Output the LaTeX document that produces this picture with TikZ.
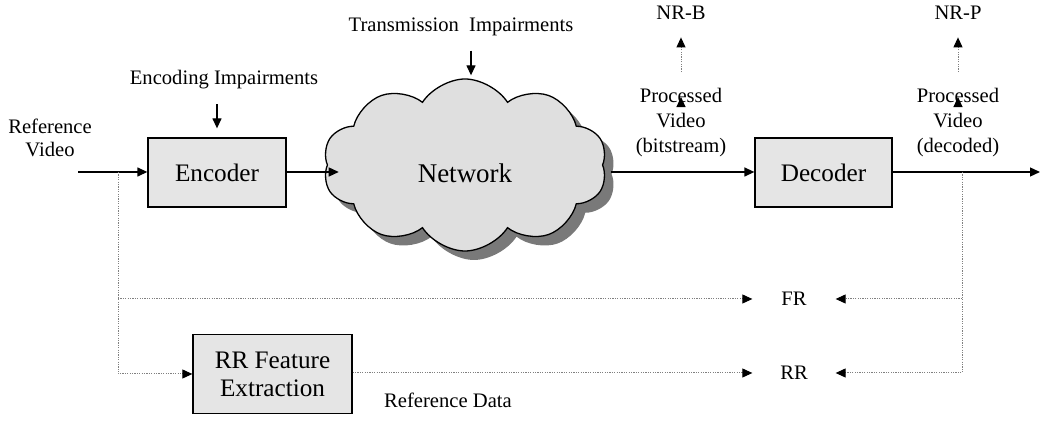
\documentclass[tikz,border=0pt]{standalone}
\usepackage{fontspec}
\setmainfont{Liberation Serif}
\usetikzlibrary{arrows.meta,shapes.symbols,shadows}

\begin{document}
\begin{tikzpicture}[x=0.5pt,y=-0.5pt,line width=0.65pt,
        >={Triangle[length=5pt,width=4.5pt,black]},
        dotline/.style={draw=gray,line width=0.5pt,dash pattern=on 0.6pt off 0.6pt}]
    \useasboundingbox (0,0) rectangle (1040,421);

        % blocks
        \begin{scope}[every node/.style={draw,fill=gray!20,align=center,font=\fontsize{12.6}{14}\selectfont}]
            \node[minimum width=69pt,minimum height=34.5pt] (enc) at (217,172.5) {Encoder};
            \node[minimum width=68.5pt,minimum height=34.5pt] (dec) at (823.5,172.5) {Decoder};
            \node[minimum width=79.5pt,minimum height=39.5pt] (rrf) at (272.5,374) {RR Feature\\Extraction};
            \node[cloud,cloud puffs=10,cloud puff arc=115,minimum width=142pt,minimum height=86pt,inner sep=0pt,
                  fill=gray!25,drop shadow={shadow xshift=4.5pt,shadow yshift=-4.5pt,fill=gray!95!black,opacity=1},
                  label={[font=\fontsize{13.5}{15}\selectfont,yshift=-4pt]center:Network}] (net) at (465,165) {};
        \end{scope}

        % labels
        \begin{scope}[every node/.style={align=center,font=\fontsize{10.3}{12.5}\selectfont,inner sep=2pt}]
            \node[font=\fontsize{10.3}{11.5}\selectfont] (ref) at (50,138) {Reference\\Video};
            \node (encimp) at (224,80) {Encoding Impairments};
            \node (trimp) at (461,27) {Transmission\ \ Impairments};
            \node (pvb) at (681,123) {Processed\\Video\\(bitstream)};
            \node (pvd) at (958,123) {Processed\\Video\\(decoded)};
            \node (nrb) at (681,13) {NR-B};
            \node (nrp) at (958,13) {NR-P};
            \node[minimum width=41pt] (fr) at (794,299) {FR};
            \node[minimum width=41pt] (rr) at (794,373) {RR};
            \node (refdata) at (448,400) {Reference Data};
        \end{scope}

        \coordinate (in) at (78,172);
        \coordinate (out) at (1040,172);
        \coordinate (split) at (118,172);
        \coordinate (tap) at (962,172);

        % main chain
        \path [->] (in) edge (enc.west |- in);
        \path [->] (enc.east |- in) edge ([xshift=6pt]net.west |- in);
        \path [->] ([xshift=4pt]net.east |- in) edge (dec.west |- in);
        \path [->] (dec.east |- in) edge (out);

        \draw [->,shorten <=5pt,shorten >=4.5pt] (encimp.south -| enc.north) -- (enc.north);
        \draw [->,shorten <=5pt,shorten >=1.5pt] ([xshift=5pt]trimp.south) -- ([xshift=5pt]trimp.south |- net.north);

        % no-reference outputs
        \path [->,dotline,shorten <=6pt,shorten >=6.5pt] (pvb.north) edge (nrb.south);
        \path [->,dotline,shorten <=6pt,shorten >=6.5pt] (pvd.north) edge (nrp.south);

        % full / reduced reference
        \draw [->,dotline] (split) |- (rrf.west);
        \draw [->,dotline] (split |- fr) -- (fr.west);
        \draw [->,dotline] (rrf.east |- rr) -- (rr.west);
        \draw [->,dotline] (tap) |- (rr.east);
        \draw [->,dotline] (tap |- fr) -- (fr.east);

\end{tikzpicture}
\end{document}
